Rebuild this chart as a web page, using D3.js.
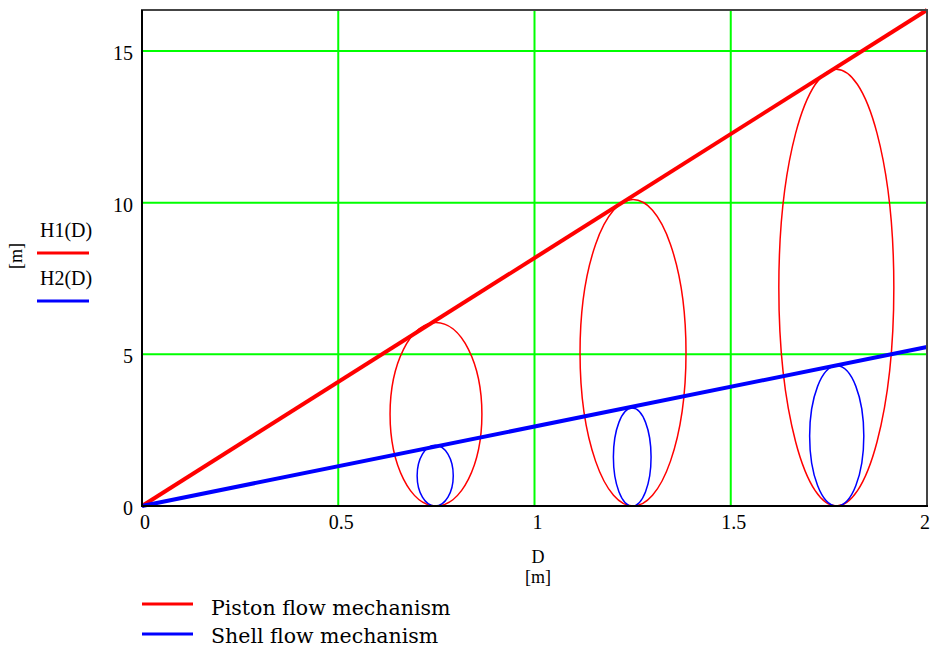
<!DOCTYPE html>
<html>
<head>
<meta charset="utf-8">
<script src="https://cdn.jsdelivr.net/npm/d3@7"></script>
<style>
  html, body { margin: 0; padding: 0; background: #fff; }
  svg { display: block; }
</style>
</head>
<body>
<svg id="chart" width="932" height="650"></svg>
<script>
// ---- data ----
const lineD = [0, 2];
const h1Values = [0, 16.35];   // H1(D) piston flow
const h2Values = [0, 5.24];    // H2(D) shell flow

const ellipseCenters = [0.749, 1.251, 1.769];
const redHeights = [6.05, 10.1, 14.4];
const redHalfWidths = [0.117, 0.135, 0.1465];
const blueCenters = [0.747, 1.249, 1.77];
const blueHeights = [2.0, 3.23, 4.62];
const blueHalfWidths = [0.046, 0.048, 0.069];

const xTicks = [0, 0.5, 1, 1.5, 2];
const xTickLabels = ["0", "0.5", "1", "1.5", "2"];
const yTicks = [0, 5, 10, 15];
const yTickLabels = ["0", "5", "10", "15"];

const legendSeries = ["H1(D)", "H2(D)"];
const legendLabels = ["Piston flow mechanism", "Shell flow mechanism"];
const seriesColors = ["#ff0000", "#0000ff"];

// ---- layout ----
const svg = d3.select("#chart");
const W = 932;
const L = 142, R = 927, T = 10, B = 506;
const x = d3.scaleLinear().domain([0, 2]).range([L, R]);
const y = d3.scaleLinear().domain([0, 16.35]).range([B, T]);
const serif = "'Liberation Serif', 'Times New Roman', serif";

// grid
const gridG = svg.append("g");
gridG.selectAll("line.vx").data(xTicks.filter(t => t > 0 && t < 2)).enter().append("line")
  .attr("x1", d => x(d)).attr("x2", d => x(d)).attr("y1", T).attr("y2", B)
  .attr("stroke", "#00ff00").attr("stroke-width", 2);
gridG.selectAll("line.hy").data(yTicks.filter(t => t > 0)).enter().append("line")
  .attr("x1", L).attr("x2", R).attr("y1", d => y(d)).attr("y2", d => y(d))
  .attr("stroke", "#00ff00").attr("stroke-width", 2);

// ellipses
const ellG = svg.append("g").attr("fill", "none");
ellG.selectAll("ellipse.red").data(ellipseCenters).enter().append("ellipse")
  .attr("cx", d => x(d))
  .attr("cy", (d, i) => y(redHeights[i] / 2))
  .attr("rx", (d, i) => x(d + redHalfWidths[i]) - x(d))
  .attr("ry", (d, i) => y(0) - y(redHeights[i] / 2))
  .attr("stroke", seriesColors[0]).attr("stroke-width", 1.5);
ellG.selectAll("ellipse.blue").data(blueCenters).enter().append("ellipse")
  .attr("cx", d => x(d))
  .attr("cy", (d, i) => y(blueHeights[i] / 2))
  .attr("rx", (d, i) => x(d + blueHalfWidths[i]) - x(d))
  .attr("ry", (d, i) => y(0) - y(blueHeights[i] / 2))
  .attr("stroke", seriesColors[1]).attr("stroke-width", 1.5);

// main lines
const line = d3.line().x(d => x(d[0])).y(d => y(d[1]));
[h1Values, h2Values].forEach((vals, i) => {
  svg.append("path")
    .datum(lineD.map((d, j) => [d, vals[j]]))
    .attr("d", line)
    .attr("fill", "none")
    .attr("stroke", seriesColors[i])
    .attr("stroke-width", 4);
});

// frame
svg.append("rect").attr("x", L).attr("y", T).attr("width", R - L).attr("height", B - T)
  .attr("fill", "none").attr("stroke", "#444").attr("stroke-width", 2);
svg.append("line").attr("x1", L).attr("x2", L).attr("y1", T).attr("y2", B + 1)
  .attr("stroke", "#000").attr("stroke-width", 2);
svg.append("line").attr("x1", L - 1).attr("x2", R + 1).attr("y1", B).attr("y2", B)
  .attr("stroke", "#000").attr("stroke-width", 2);

// tick labels
svg.append("g").selectAll("text").data(yTicks).enter().append("text")
  .attr("x", 133).attr("y", d => y(d) + 9)
  .attr("text-anchor", "end")
  .attr("font-family", serif).attr("font-size", 20).attr("fill", "#000")
  .text((d, i) => yTickLabels[i]);
svg.append("g").selectAll("text").data(xTicks).enter().append("text")
  .attr("x", d => Math.min(x(d) + 3, W - 7)).attr("y", 529)
  .attr("text-anchor", "middle")
  .attr("font-family", serif).attr("font-size", 20).attr("fill", "#000")
  .text((d, i) => xTickLabels[i]);

// axis titles
svg.append("text").attr("x", 538).attr("y", 563).attr("text-anchor", "middle")
  .attr("font-family", serif).attr("font-size", 18).text("D");
svg.append("text").attr("x", 538).attr("y", 583).attr("text-anchor", "middle")
  .attr("font-family", serif).attr("font-size", 18).text("[m]");
svg.append("text").attr("transform", "translate(22,256) rotate(-90)")
  .attr("text-anchor", "middle")
  .attr("font-family", serif).attr("font-size", 18).text("[m]");

// side legend
const sideY = [237, 285];
const sideLineY = [253, 301];
legendSeries.forEach((s, i) => {
  svg.append("text").attr("x", 40).attr("y", sideY[i])
    .attr("font-family", serif).attr("font-size", 20).text(s);
  svg.append("line").attr("x1", 37).attr("x2", 89)
    .attr("y1", sideLineY[i]).attr("y2", sideLineY[i])
    .attr("stroke", seriesColors[i]).attr("stroke-width", 3);
});

// bottom legend
const botTextY = [615, 643];
const botLineY = [604, 634];
legendLabels.forEach((s, i) => {
  svg.append("line").attr("x1", 142).attr("x2", 193)
    .attr("y1", botLineY[i]).attr("y2", botLineY[i])
    .attr("stroke", seriesColors[i]).attr("stroke-width", 3);
  svg.append("text").attr("x", 211).attr("y", botTextY[i])
    .attr("font-family", "'DejaVu Serif', serif").attr("font-size", 20.5).text(s);
});
</script>
</body>
</html>
